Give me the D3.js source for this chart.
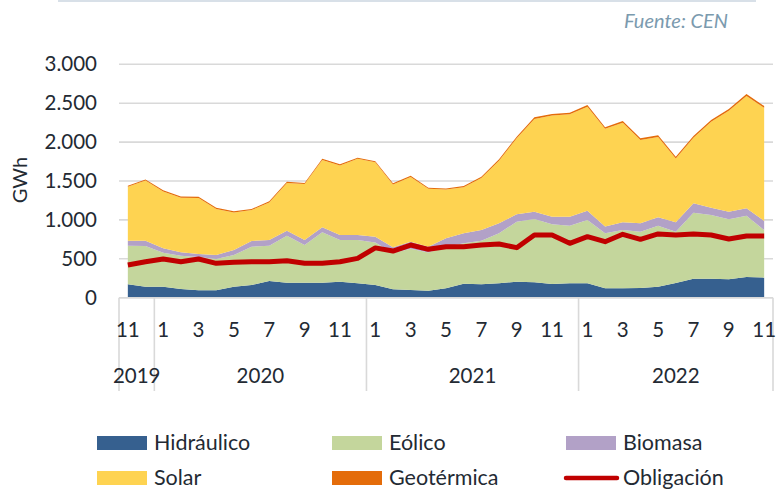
<!DOCTYPE html>
<html>
<head>
<meta charset="utf-8">
<script src="https://cdn.jsdelivr.net/npm/d3@7"></script>
<style>
  body { margin: 0; background: #fff; }
  text { font-family: Lato, "Noto Sans", sans-serif; fill: #232a33; }
</style>
</head>
<body>
<div class="chart"></div>
<script>
// months Nov 2019 .. Nov 2022
const months = [11, 12, 1, 2, 3, 4, 5, 6, 7, 8, 9, 10, 11, 12, 1, 2, 3, 4, 5, 6, 7, 8, 9, 10, 11, 12, 1, 2, 3, 4, 5, 6, 7, 8, 9, 10, 11];
const years = [
    { label: '2019', start: 0, end: 2 },
    { label: '2020', start: 2, end: 14 },
    { label: '2021', start: 14, end: 26 },
    { label: '2022', start: 26, end: 37 }
];

const hidraulico = [172, 141, 141, 112, 95, 95, 141, 163, 215, 193, 193, 193, 206, 185, 163, 108, 99, 90, 121, 180, 172, 185, 206, 198, 176, 185, 185, 121, 121, 125, 142, 190, 245, 245, 236, 266, 258];
const eolico = [497, 525, 438, 428, 428, 402, 408, 493, 454, 604, 484, 647, 536, 557, 547, 467, 531, 490, 535, 519, 561, 642, 771, 813, 767, 740, 813, 709, 749, 723, 783, 658, 848, 818, 771, 788, 612];
const biomasa = [64, 67, 56, 43, 39, 52, 64, 73, 73, 64, 65, 65, 64, 64, 74, 73, 90, 76, 107, 128, 137, 129, 95, 94, 98, 116, 120, 85, 99, 108, 108, 121, 120, 94, 98, 95, 116];
const solar = [693, 772, 730, 703, 721, 590, 482, 397, 483, 613, 718, 865, 892, 979, 957, 807, 832, 743, 628, 594, 669, 805, 978, 1192, 1300, 1316, 1337, 1255, 1281, 1071, 1033, 821, 842, 1103, 1297, 1445, 1454];
const geotermica = [14, 15, 15, 14, 15, 16, 15, 14, 15, 16, 15, 15, 16, 15, 14, 15, 16, 15, 14, 15, 16, 18, 20, 21, 20, 21, 22, 20, 21, 22, 21, 22, 23, 24, 23, 24, 24];
const obligacion = [420, 463, 497, 463, 497, 442, 455, 463, 463, 476, 442, 442, 463, 506, 640, 600, 677, 622, 656, 656, 677, 690, 643, 806, 806, 699, 784, 720, 815, 750, 819, 806, 819, 806, 754, 793, 793];

const yTicks = [0, 500, 1000, 1500, 2000, 2500, 3000];

const series = [
    { key: 'Hidráulico', values: hidraulico, color: '#36608f' },
    { key: 'Eólico', values: eolico, color: '#c4d69c' },
    { key: 'Biomasa', values: biomasa, color: '#b2a1c7' },
    { key: 'Solar', values: solar, color: '#fed351' },
    { key: 'Geotérmica', values: geotermica, color: '#e46c0a' }
];

const settings = {
    width: 776,
    height: 490,
    left: 119,
    right: 773,
    top: 64.3,
    bottom: 297.7
};

const rows = months.map((m, i) => {
    const r = { i: i };
    series.forEach(s => r[s.key] = s.values[i]);
    return r;
});

const svg = d3.select('.chart')
    .append('svg')
    .attr('width', settings.width)
    .attr('height', settings.height);

const x = d3.scaleBand()
    .domain(d3.range(months.length))
    .range([settings.left, settings.right]);
const cx = i => x(i) + x.bandwidth() / 2;

const y = d3.scaleLinear()
    .domain([0, 3000])
    .range([settings.bottom, settings.top]);

const fmt = d3.formatLocale({ decimal: ',', thousands: '.', grouping: [3], currency: ['', ''] }).format(',');

// top border + source
svg.append('line')
    .attr('x1', 58).attr('x2', 756)
    .attr('y1', 1).attr('y2', 1)
    .attr('stroke', '#d8e0e8')
    .attr('stroke-width', 2);

svg.append('text')
    .attr('x', 728).attr('y', 28)
    .attr('text-anchor', 'end')
    .style('font-style', 'italic')
    .style('font-size', '20px')
    .style('fill', '#7b9aae')
    .text('Fuente: CEN');

// grid
svg.append('g')
    .selectAll('line')
    .data(yTicks)
    .enter()
    .append('line')
    .attr('x1', settings.left).attr('x2', settings.right)
    .attr('y1', d => y(d)).attr('y2', d => y(d))
    .attr('stroke', '#d9d9d9')
    .attr('stroke-width', 1.6);

// y axis labels
const yAxis = svg.append('g')
    .attr('transform', `translate(${settings.left - 22},0)`)
    .call(d3.axisLeft(y).tickValues(yTicks).tickFormat(fmt).tickSize(0).tickPadding(0));
yAxis.select('.domain').remove();
yAxis.selectAll('text')
    .style('font-family', 'Lato, sans-serif')
    .style('font-size', '20.5px')
    .style('fill', '#232a33');

svg.append('text')
    .attr('transform', 'translate(27,180) rotate(-90)')
    .attr('text-anchor', 'middle')
    .style('font-size', '20px')
    .text('GWh');

// stacked areas
const stack = d3.stack().keys(series.map(s => s.key));
const layers = stack(rows);

const area = d3.area()
    .x((d, i) => cx(i))
    .y0(d => y(d[0]))
    .y1(d => y(d[1]));

svg.append('g')
    .selectAll('path')
    .data(layers)
    .enter()
    .append('path')
    .attr('d', area)
    .attr('fill', (d, i) => series[i].color);

// obligation line
const line = d3.line()
    .x((d, i) => cx(i))
    .y(d => y(d));

svg.append('path')
    .datum(obligacion)
    .attr('d', line)
    .attr('fill', 'none')
    .attr('stroke', '#c00000')
    .attr('stroke-width', 5)
    .attr('stroke-linejoin', 'round');

// x axis
svg.append('line')
    .attr('x1', settings.left).attr('x2', settings.right)
    .attr('y1', settings.bottom).attr('y2', settings.bottom)
    .attr('stroke', '#d9d9d9')
    .attr('stroke-width', 1.6);

const seps = [0].concat(years.map(d => d.end));
svg.append('g')
    .selectAll('line')
    .data(seps)
    .enter()
    .append('line')
    .attr('x1', d => d < months.length ? x(d) : settings.right)
    .attr('x2', d => d < months.length ? x(d) : settings.right)
    .attr('y1', settings.bottom)
    .attr('y2', 391)
    .attr('stroke', '#d9d9d9')
    .attr('stroke-width', 1.6);

svg.append('g')
    .selectAll('text')
    .data(months.map((m, i) => ({ m: m, i: i })).filter(d => d.i % 2 === 0))
    .enter()
    .append('text')
    .attr('x', d => cx(d.i))
    .attr('y', 337)
    .attr('text-anchor', 'middle')
    .style('font-size', '20.5px')
    .text(d => d.m);

svg.append('g')
    .selectAll('text')
    .data(years)
    .enter()
    .append('text')
    .attr('x', d => (x(d.start) + (d.end < months.length ? x(d.end) : settings.right)) / 2)
    .attr('y', 383)
    .attr('text-anchor', 'middle')
    .style('font-size', '20.5px')
    .text(d => d.label);

// legend
const legendItems = series.map(s => ({ key: s.key, color: s.color, type: 'area' }))
    .concat([{ key: 'Obligación', color: '#c00000', type: 'line' }]);
const colX = [97, 332, 566];
const rowY = [443, 478];

const legend = svg.append('g')
    .selectAll('g')
    .data(legendItems)
    .enter()
    .append('g')
    .attr('transform', (d, i) => `translate(${colX[i % 3]},${rowY[Math.floor(i / 3)]})`);

legend.filter(d => d.type === 'area')
    .append('rect')
    .attr('x', 0).attr('y', -7)
    .attr('width', 50).attr('height', 14)
    .attr('fill', d => d.color);

legend.filter(d => d.type === 'line')
    .append('line')
    .attr('x1', 0).attr('x2', 51)
    .attr('y1', 0).attr('y2', 0)
    .attr('stroke', d => d.color)
    .attr('stroke-width', 4.5)
    .attr('stroke-linecap', 'round');

legend.append('text')
    .attr('x', 57)
    .attr('y', 7)
    .style('font-size', '21.5px')
    .text(d => d.key);
</script>
</body>
</html>
